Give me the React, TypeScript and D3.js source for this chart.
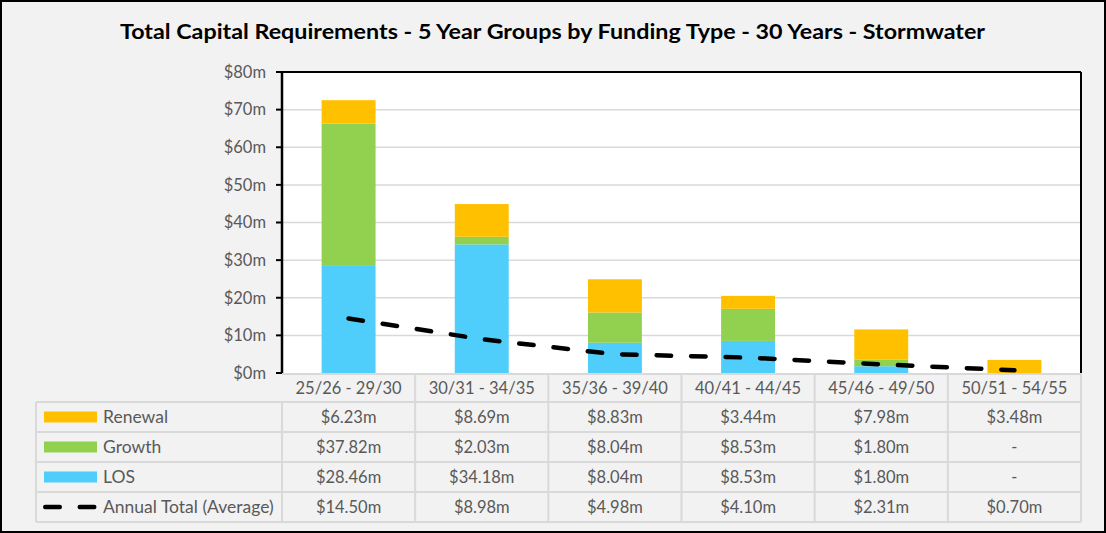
import * as d3 from "d3";

const categories = ["25/26 - 29/30", "30/31 - 34/35", "35/36 - 39/40", "40/41 - 44/45", "45/46 - 49/50", "50/51 - 54/55"];
const renewal = [6.23, 8.69, 8.83, 3.44, 7.98, 3.48];
const growth = [37.82, 2.03, 8.04, 8.53, 1.8, 0];
const los = [28.46, 34.18, 8.04, 8.53, 1.8, 0];
const annualAvg = [14.5, 8.98, 4.98, 4.1, 2.31, 0.7];
const yTicks = [0, 10, 20, 30, 40, 50, 60, 70, 80];

const W = 1106;
const H = 533;
const font = "Lato, 'Open Sans', sans-serif";
const textCol = "#595959";
const gridCol = "#D9D9D9";

const series = [
    { key: "los", name: "LOS", color: "#4FCDFB" },
    { key: "growth", name: "Growth", color: "#92D050" },
    { key: "renewal", name: "Renewal", color: "#FFC000" },
];

const fmt = (v: number) => (v === 0 ? "-" : `$${v.toFixed(2)}m`);

const App = () => {
    const plot = { left: 282, right: 1081, top: 72, bottom: 373 };

    const x = d3.scaleBand<string>()
        .domain(categories)
        .range([plot.left, plot.right])
        .paddingInner(0.595)
        .paddingOuter(0.2975);

    const y = d3.scaleLinear().domain([0, 80]).range([plot.bottom, plot.top]);

    const rows = categories.map((c, i) => ({ cat: c, los: los[i], growth: growth[i], renewal: renewal[i] }));
    const stacked = d3.stack<any>().keys(series.map(s => s.key))(rows);

    const line = d3.line<number>()
        .x((_, i) => (x(categories[i]) as number) + x.bandwidth() / 2)
        .y(d => y(d));

    const step = x.step();
    const colX = (i: number) => plot.left + i * step;
    const headerTop = plot.bottom;
    const rowH = 30;
    const tableTop = 402;
    const tableLeft = 36;

    const tableRows = [
        { name: "Renewal", color: "#FFC000", values: renewal, dash: false },
        { name: "Growth", color: "#92D050", values: growth, dash: false },
        { name: "LOS", color: "#4FCDFB", values: los, dash: false },
        { name: "Annual Total (Average)", color: "#000", values: annualAvg, dash: true },
    ];
    const tableBottom = tableTop + rowH * tableRows.length;

    return (
        <svg width={W} height={H} style={{ position: "absolute", left: 0, top: 0 }} fontFamily={font}>
            <rect x={1} y={1} width={W - 2} height={H - 2} fill="#F2F2F2" stroke="#000" strokeWidth={2} />
            <text x={120} y={39} textLength={865} lengthAdjust="spacingAndGlyphs" fontSize={21.5} fontWeight="bold" fill="#000">
                Total Capital Requirements - 5 Year Groups by Funding Type - 30 Years - Stormwater
            </text>

            <rect x={plot.left} y={plot.top} width={plot.right - plot.left} height={plot.bottom - plot.top} fill="#fff" />

            {yTicks.slice(1, -1).map(t => (
                <line key={t} x1={plot.left} x2={plot.right} y1={y(t)} y2={y(t)} stroke={gridCol} strokeWidth={1.5} />
            ))}

            {stacked.map((s, si) => (
                <g key={s.key} fill={series[si].color}>
                    {s.map((d, i) => (
                        d[1] - d[0] > 0 ? (
                            <rect key={i} x={x(categories[i])} width={x.bandwidth()} y={y(d[1])} height={y(d[0]) - y(d[1])} />
                        ) : null
                    ))}
                </g>
            ))}

            <path d={line(annualAvg) || ""} fill="none" stroke="#000" strokeWidth={4.5} strokeDasharray="14.5 20" strokeLinecap="round" />

            {/* plot frame */}
            <line x1={plot.left} x2={plot.right} y1={plot.top} y2={plot.top} stroke="#000" strokeWidth={2} />
            <line x1={plot.right} x2={plot.right} y1={plot.top} y2={plot.bottom} stroke="#000" strokeWidth={2} />
            <line x1={plot.left} x2={plot.left} y1={plot.top} y2={plot.bottom} stroke="#000" strokeWidth={2.5} />

            {yTicks.map(t => (
                <g key={t}>
                    <line x1={plot.left - 6} x2={plot.left} y1={y(t)} y2={y(t)} stroke="#000" strokeWidth={2} />
                    <text x={plot.left - 16} y={y(t)} dy="0.35em" textAnchor="end" fontSize={16.5} fill={textCol}>
                        {`$${t}m`}
                    </text>
                </g>
            ))}

            {/* data table */}
            <g stroke={gridCol} strokeWidth={2}>
                <line x1={plot.left} x2={plot.right} y1={headerTop + 1} y2={headerTop + 1} />
                {tableRows.map((_, r) => (
                    <line key={r} x1={tableLeft} x2={plot.right} y1={tableTop + r * rowH} y2={tableTop + r * rowH} />
                ))}
                <line x1={tableLeft} x2={plot.right} y1={tableBottom} y2={tableBottom} />
                <line x1={tableLeft} x2={tableLeft} y1={tableTop} y2={tableBottom} />
                {d3.range(categories.length + 1).map(i => (
                    <line key={i} x1={colX(i)} x2={colX(i)} y1={i === 0 ? tableTop : headerTop + 1} y2={tableBottom} />
                ))}
            </g>

            {categories.map((c, i) => (
                <text key={c} x={colX(i) + step / 2} y={(headerTop + tableTop) / 2 + 1} dy="0.35em" textAnchor="middle" fontSize={16.5} fill={textCol}>
                    {c}
                </text>
            ))}

            {tableRows.map((r, ri) => {
                const cy = tableTop + ri * rowH + rowH / 2;
                return (
                    <g key={r.name}>
                        {r.dash ? (
                            <line x1={45.25} x2={94.25} y1={cy} y2={cy} stroke="#000" strokeWidth={4.5} strokeDasharray="14.5 20" strokeLinecap="round" />
                        ) : (
                            <rect x={44} y={cy - 5.5} width={53} height={11} fill={r.color} />
                        )}
                        <text x={103} y={cy} dy="0.35em" fontSize={17.5} fill={textCol}>{r.name}</text>
                        {r.values.map((v, i) => (
                            <text key={i} x={colX(i) + step / 2} y={cy} dy="0.35em" textAnchor="middle" fontSize={16.5} fill={textCol}>
                                {fmt(v)}
                            </text>
                        ))}
                    </g>
                );
            })}
        </svg>
    );
};

export default App;
